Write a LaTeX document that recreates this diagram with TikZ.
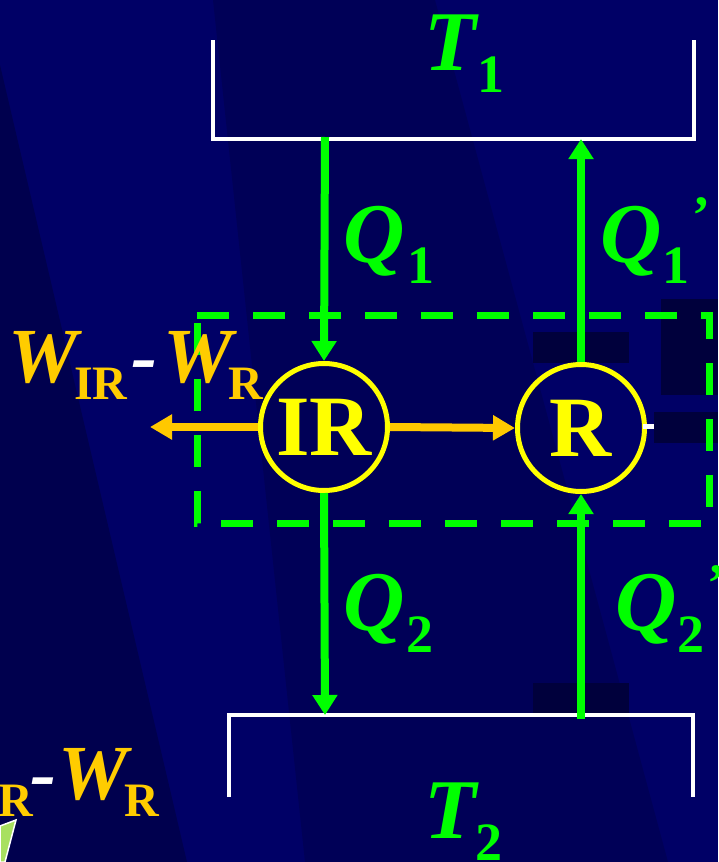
\documentclass[tikz,border=0pt]{standalone}
\usepackage{fontspec}
\setmainfont{Liberation Serif}
\usetikzlibrary{arrows.meta}
\definecolor{bglight}{HTML}{000066}
\definecolor{bgmid}{HTML}{000057}
\definecolor{bgdark}{HTML}{00004E}
\definecolor{bgbox}{HTML}{00003C}
\definecolor{grn}{HTML}{00FF00}
\definecolor{yel}{HTML}{FFFF00}
\definecolor{org}{HTML}{FFC800}
\definecolor{wcol}{HTML}{FFCC00}
\definecolor{leaf}{HTML}{A8E060}
\begin{document}
\begin{tikzpicture}[x=1pt,y=-1pt,
  lbl/.style={inner sep=0pt, outer sep=0pt, anchor=base west},
  bigq/.style={lbl, text=grn, font=\fontsize{85}{85}\selectfont\bfseries\itshape},
  subq/.style={lbl, text=grn, font=\fontsize{54}{54}\selectfont\bfseries},
  bigw/.style={lbl, text=wcol, font=\fontsize{78}{78}\selectfont\bfseries\itshape},
  subw/.style={lbl, text=wcol, font=\fontsize{48}{48}\selectfont\bfseries},
  hyph/.style={lbl, text=white, font=\fontsize{78}{78}\selectfont\bfseries\itshape},
  engine/.style={circle, draw=yel, line width=5pt, minimum size=127pt, inner sep=0pt,
    text=yel, font=\fontsize{86}{86}\selectfont\bfseries},
  res/.style={draw=white, line width=4pt, line join=miter},
  garrow/.style={draw=grn, line width=8pt, -{Triangle[length=20pt,width=24pt]}},
  oarrow/.style={draw=org, line width=8pt, -{Triangle[length=22pt,width=24pt]}},
  sysbox/.style={draw=grn, line width=7pt, dash pattern=on 32pt off 24pt},
  darkbox/.style={fill=bgbox, draw=none}
]
\useasboundingbox (0,0) rectangle (718,862);
\clip (0,0) rectangle (718,862);
% background
\fill[bglight] (0,0) rectangle (718,862);
\fill[bgmid] (213,0) -- (435,0) -- (668,862) -- (305,862) -- cycle;
\fill[bgdark] (0,65) -- (187,862) -- (0,862) -- cycle;
% dark patches
\fill[darkbox] (533,332) rectangle (629,363);
\fill[darkbox] (661,299) rectangle (718,395);
\fill[darkbox] (654,412) rectangle (718,443);
\fill[darkbox] (533,683) rectangle (629,714);
% reservoirs
\draw[res] (213,40) -- (213,139) -- (694,139) -- (694,40);
\draw[res] (229,797) -- (229,715) -- (693,715) -- (693,797);
\node[bigq] (T1) at (424,70) {T};
\node[subq] (T1s) at (477,92) {1};
\node[bigq] (T2) at (424,838) {T};
\node[subq] (T2s) at (475,860) {2};
% system boundary
\draw[sysbox] (197,315) -- (709,315) -- (709,523) -- (197,523) -- cycle;
% engines
\node[engine] (IR) at (324,427) {IR};
\node[engine] (R) at (581,428) {R};
\fill[white] (643,424) rectangle (654,429);
% connectors
\coordinate (t1L) at (325,137);
\coordinate (t1R) at (581,139);
\coordinate (t2L) at (325,715);
\coordinate (t2R) at (581,719);
\coordinate (wout) at (150,427);
\draw[garrow] (t1L) -- (IR.north);
\draw[garrow] (IR.south) -- (t2L);
\draw[garrow] (R.north) -- (t1R);
\draw[garrow] (t2R) -- (R.south);
\draw[oarrow] (IR.west) -- (wout);
\draw[oarrow] (IR.east) -- (R.west);
% heat labels
\node[bigq] (Q1) at (343,262) {Q};
\node[subq] (Q1s) at (407,283) {1};
\node[bigq] (Q1p) at (600,262) {Q};
\node[subq] (Q1ps) at (662,283) {1};
\node[subq, anchor=north west] (Q1pp) at (692,198) {’};
\node[bigq] (Q2) at (343,630) {Q};
\node[subq] (Q2s) at (406,652) {2};
\node[bigq] (Q2p) at (615,630) {Q};
\node[subq] (Q2ps) at (677,652) {2};
\node[subq, anchor=north west] (Q2pp) at (707,566) {’};
% work labels
\node[bigw] (W1) at (9,382) {W};
\node[subw] (W1s) at (74,399) {IR};
\node[hyph] (H1) at (131,382) {-};
\node[bigw] (W2) at (163,382) {W};
\node[subw] (W2s) at (228,399) {R};
\node[subw, anchor=base east] (W3s) at (33,816) {IR};
\node[hyph] (H2) at (30,799) {-};
\node[bigw] (W4) at (58,799) {W};
\node[subw] (W4s) at (124,816) {R};
% corner leaf
\filldraw[fill=leaf, draw=white, line width=1.5pt] (0,826) -- (16,820) -- (5,862) -- (0,862) -- cycle;
\end{tikzpicture}
\end{document}
